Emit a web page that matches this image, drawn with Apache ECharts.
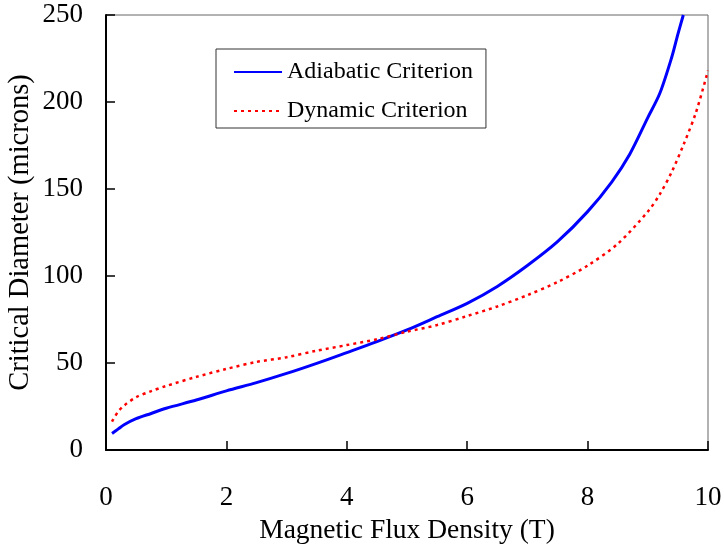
<!DOCTYPE html>
<html>
<head>
<meta charset="utf-8">
<script src="https://cdn.jsdelivr.net/npm/echarts@6/dist/echarts.min.js"></script>
<style>html,body{margin:0;padding:0;background:#fff;}#c{width:724px;height:549px;}</style>
</head>
<body>
<div id="c"></div>
<script>
const adiabaticX = [0.1, 0.2, 0.3, 0.5, 0.75, 1, 1.5, 2, 2.5, 3, 3.5, 4, 4.5, 5, 5.5, 6, 6.5, 7, 7.5, 8, 8.4, 8.7, 9, 9.2, 9.4, 9.5, 9.59];
const adiabaticY = [9.5, 12, 14.5, 18, 21, 24, 28.7, 34, 38.7, 44, 49.8, 56, 62.3, 69, 76.6, 84.3, 94, 106, 119.7, 137, 154, 170, 191, 205, 226, 239, 250];
const dynamicX = [0.1, 0.2, 0.3, 0.5, 0.75, 1, 1.5, 2, 2.5, 3, 3.5, 4, 4.5, 5, 5.5, 6, 6.5, 7, 7.5, 8, 8.5, 9, 9.2, 9.4, 9.6, 9.8, 10];
const dynamicY = [16.3, 22, 25.5, 30.3, 33.8, 36.8, 42, 46.6, 50.6, 53.3, 57.1, 60.3, 63.6, 68, 71.8, 77, 82.5, 89, 96.5, 106, 118.5, 137, 147, 160, 176, 194, 218];
const xTicks = [0, 2, 4, 6, 8, 10];
const yTicks = [0, 50, 100, 150, 200, 250];
const seriesNames = ['Adiabatic Criterion', 'Dynamic Criterion'];

const FONT = '"Liberation Serif", "Times New Roman", serif';
const chart = echarts.init(document.getElementById('c'), null, {renderer: 'canvas'});
const zip = (xs, ys) => xs.map((x, i) => [x, ys[i]]);

chart.setOption({
  animation: false,
  backgroundColor: '#fff',
  grid: {left: 106, right: 16, top: 15, bottom: 99, containLabel: false, outerBoundsMode: 'none',
         show: true, borderColor: '#666', borderWidth: 1},
  legend: {
    left: 216, top: 49,
    orient: 'vertical',
    backgroundColor: '#fff',
    borderColor: '#333', borderWidth: 1,
    padding: [11, 13, 5, 17],
    itemWidth: 48, itemHeight: 24, itemGap: 15,
    itemStyle: {opacity: 0},
    textStyle: {fontFamily: FONT, fontSize: 24, color: '#000', lineHeight: 24},
    data: seriesNames
  },
  xAxis: {
    type: 'value', min: xTicks[0], max: xTicks[xTicks.length - 1], interval: 2,
    name: 'Magnetic Flux Density (T)', nameLocation: 'middle', nameGap: 67,
    nameMoveOverlap: false,
    nameTextStyle: {fontFamily: FONT, fontSize: 27.5, color: '#000'},
    axisLine: {show: true, lineStyle: {color: '#000', width: 2}},
    axisTick: {show: true, inside: true, length: 9, lineStyle: {color: '#000', width: 1.5}},
    axisLabel: {fontFamily: FONT, fontSize: 27, color: '#000', margin: 34},
    splitLine: {show: false}
  },
  yAxis: {
    type: 'value', min: yTicks[0], max: yTicks[yTicks.length - 1], interval: 50,
    name: 'Critical Diameter (microns)', nameLocation: 'middle', nameGap: 71,
    nameMoveOverlap: false,
    nameTextStyle: {fontFamily: FONT, fontSize: 28.5, color: '#000'},
    axisLine: {show: true, lineStyle: {color: '#000', width: 2}},
    axisTick: {show: true, inside: true, length: 9, lineStyle: {color: '#000', width: 1.5}},
    axisLabel: {fontFamily: FONT, fontSize: 27, color: '#000', margin: 23},
    splitLine: {show: false}
  },
  series: [
    {
      name: seriesNames[0], type: 'line', symbol: 'none', smooth: 0.3,
      data: zip(adiabaticX, adiabaticY),
      lineStyle: {color: '#0000ff', width: 3},
      itemStyle: {color: '#0000ff'}
    },
    {
      name: seriesNames[1], type: 'line', symbol: 'none', smooth: 0.3,
      data: zip(dynamicX, dynamicY),
      lineStyle: {color: '#ff0000', width: 2.5, type: [3, 4]},
      itemStyle: {color: '#ff0000'}
    }
  ]
});
</script>
</body>
</html>
